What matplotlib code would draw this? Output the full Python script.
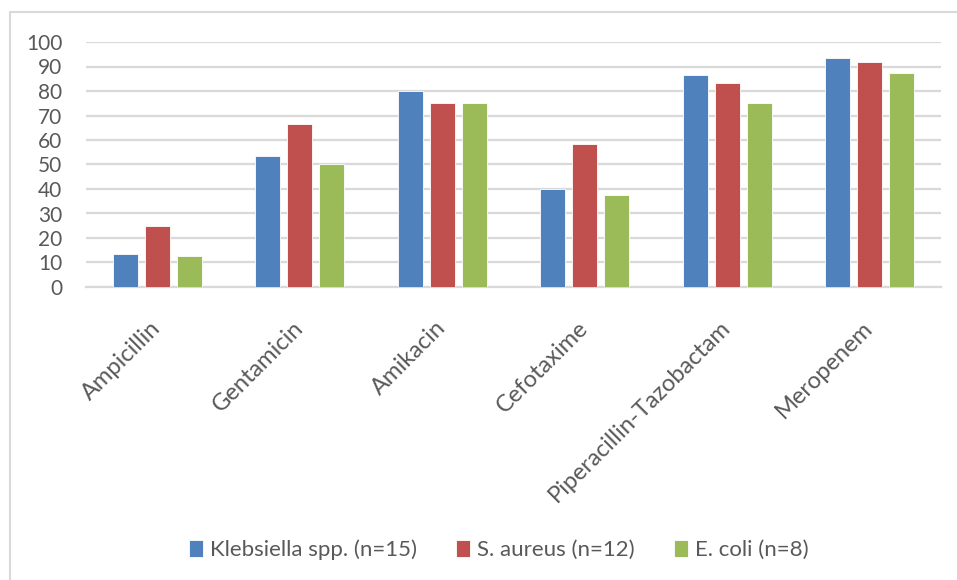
import numpy as np
import matplotlib
matplotlib.use("Agg")
import matplotlib.pyplot as plt
from matplotlib.patches import Rectangle

plt.rcParams["font.family"] = ["Lato", "DejaVu Sans"]

DRUGS = ["Ampicillin", "Gentamicin", "Amikacin", "Cefotaxime",
         "Piperacillin-Tazobactam", "Meropenem"]
SERIES = ["Klebsiella spp. (n=15)", "S. aureus (n=12)", "E. coli (n=8)"]
KLEBSIELLA = [13.3, 53.3, 80.0, 40.0, 86.7, 93.3]
S_AUREUS = [25.0, 66.7, 75.0, 58.3, 83.3, 91.7]
E_COLI = [12.5, 50.0, 75.0, 37.5, 75.0, 87.5]
COLORS = ["#4F81BD", "#C0504D", "#9BBB59"]
YTICKS = list(range(0, 101, 10))

TEXT = "#595959"
GRID = "#D9D9D9"

fig = plt.figure(figsize=(9.57, 5.80), dpi=100)
# chart frame
fig.patches.append(Rectangle((10 / 957, -0.01), 1.0, 1 - 12 / 580 + 0.01,
                             transform=fig.transFigure, fill=False,
                             edgecolor=GRID, linewidth=1.5))

ax = fig.add_axes([86 / 957, 1 - 287 / 580, 855 / 957, 245 / 580])
x = np.arange(len(DRUGS))
step, width = 0.225, 0.178
for i, (vals, name, c) in enumerate(zip([KLEBSIELLA, S_AUREUS, E_COLI], SERIES, COLORS)):
    ax.bar(x + (i - 1) * step, vals, width, color=c, edgecolor="white",
           linewidth=0.6, label=name, zorder=3)

ax.set_xlim(-0.5, len(DRUGS) - 0.5)
ax.set_ylim(0, 100)
ax.set_yticks(YTICKS)
ax.set_yticklabels([str(t) for t in YTICKS], fontsize=15, color=TEXT)
ax.set_xticks(x)
ax.set_xticklabels(DRUGS, fontsize=17, color=TEXT, rotation=45,
                   ha="right", va="center", rotation_mode="anchor")
ax.tick_params(axis="both", length=0)
ax.tick_params(axis="y", pad=17)
ax.tick_params(axis="x", pad=27)
ax.grid(axis="y", color=GRID, linewidth=1.6, zorder=0)
for s in ["left", "right", "top"]:
    ax.spines[s].set_visible(False)
ax.spines["bottom"].set_color(GRID)
ax.spines["bottom"].set_linewidth(1.6)

fig.legend(loc="center", bbox_to_anchor=(0.521, 1 - 550 / 580), ncol=3,
           frameon=False, fontsize=16, labelcolor=TEXT, handlelength=0.65,
           handleheight=0.75, handletextpad=0.3, columnspacing=1.75)

fig.savefig("out.png", dpi=100)
